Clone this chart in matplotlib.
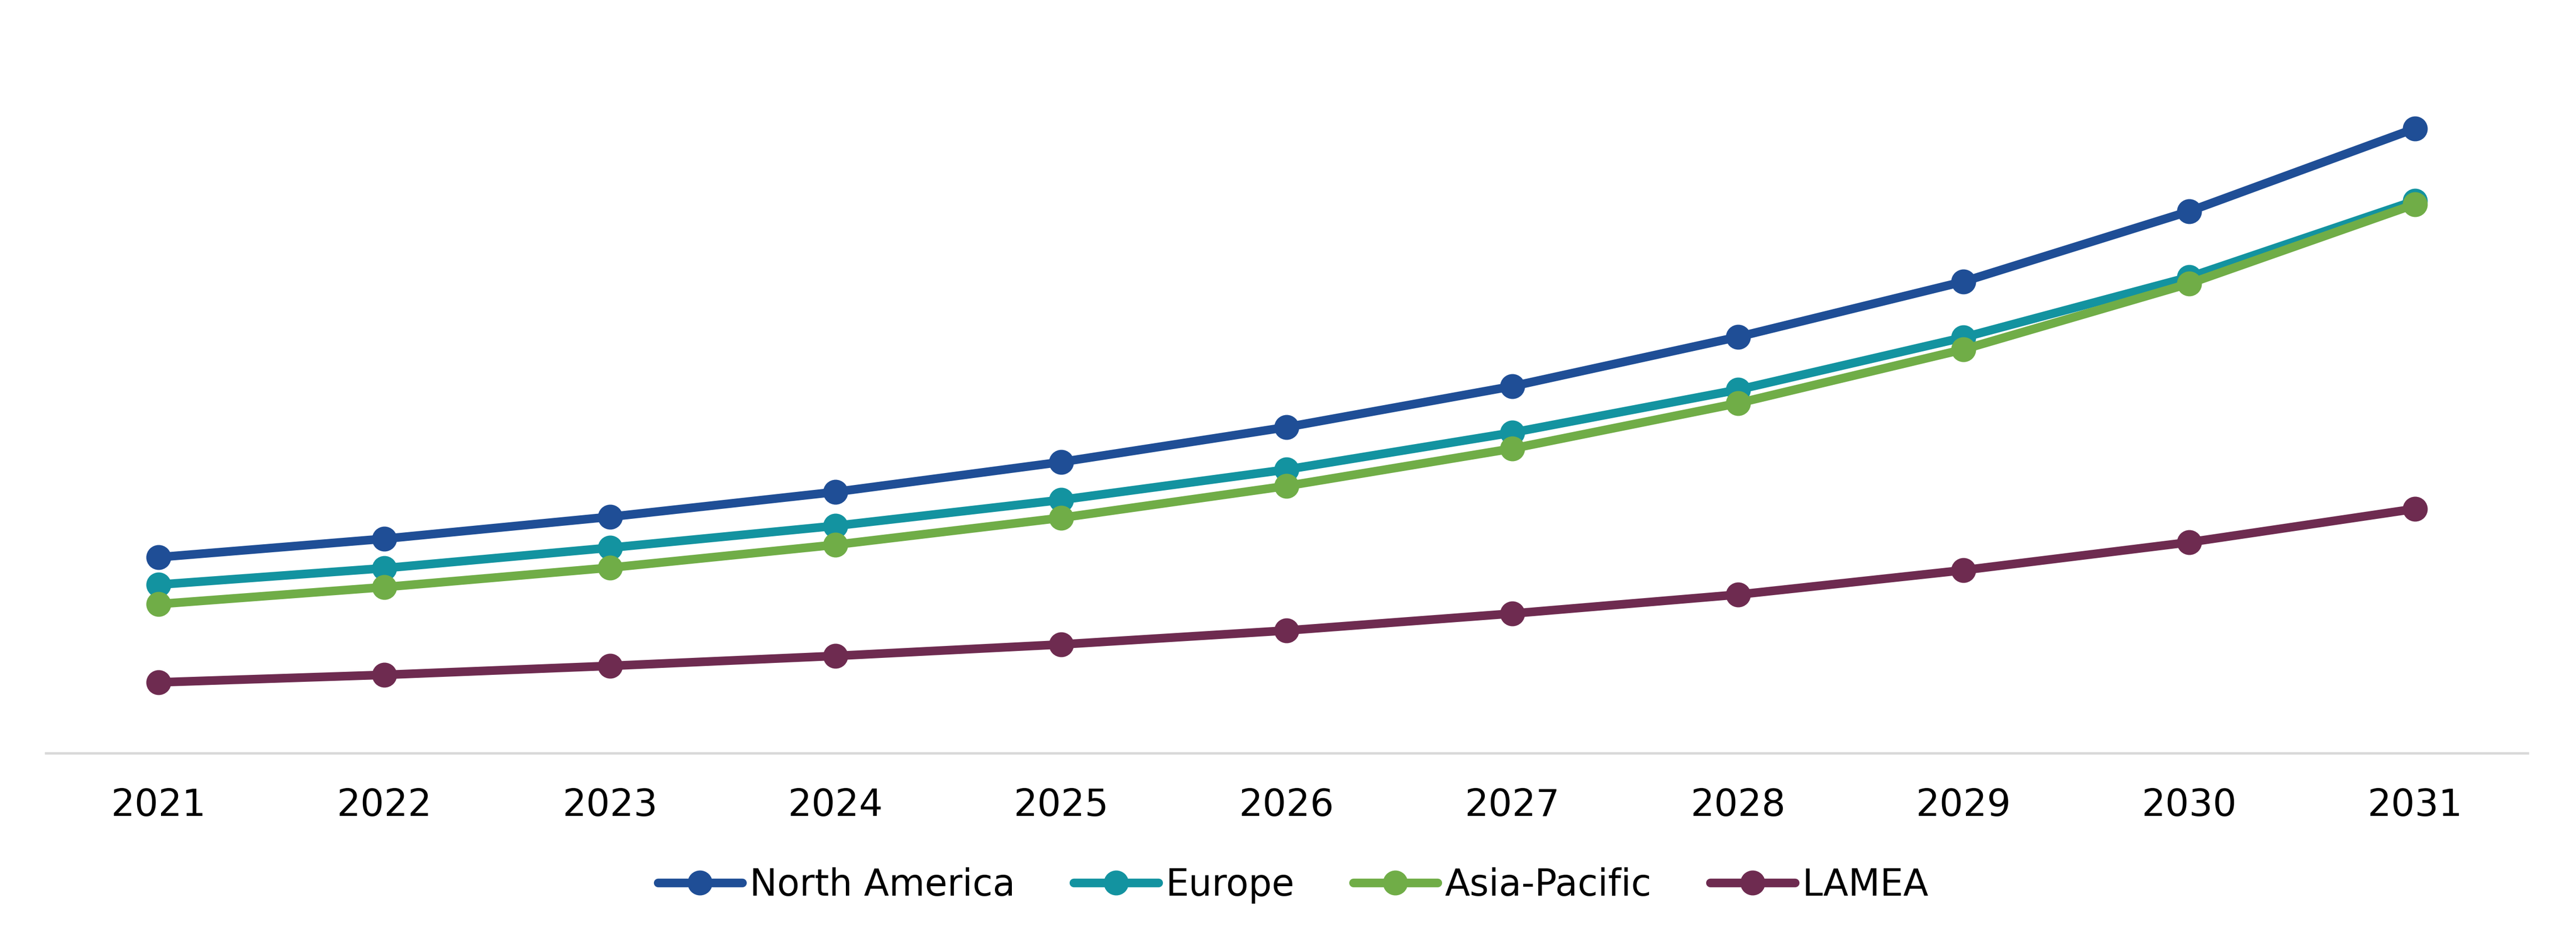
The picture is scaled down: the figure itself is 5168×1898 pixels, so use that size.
import numpy as np
import matplotlib.pyplot as plt

# values (arbitrary units, height above the axis)
years = ['2021', '2022', '2023', '2024', '2025', '2026', '2027', '2028', '2029', '2030', '2031']
north_america = [393, 430, 474, 524, 584, 654, 736, 835, 946, 1087, 1253]
europe = [338, 371, 412, 456, 508, 569, 643, 729, 834, 955, 1108]
asia_pacific = [299, 333, 372, 418, 472, 536, 611, 702, 810, 942, 1101]
lamea = [142, 157, 175, 195, 218, 246, 280, 318, 367, 423, 490]

names = ['North America', 'Europe', 'Asia-Pacific', 'LAMEA']
colors = ['#1F4E96', '#1393A0', '#70AD47', '#6E2B50']

fig = plt.figure(figsize=(51.68, 18.98), dpi=100)
ax = fig.add_axes([0.0178, 0.2039, 0.9634, 0.7961])

x = np.arange(len(years))
for vals, name, col in zip([north_america, europe, asia_pacific, lamea], names, colors):
    ax.plot(x, vals, color=col, lw=12.5, marker='o', markersize=35,
            label=name, solid_capstyle='round')

ax.set_xlim(-0.5, len(years) - 0.5)
ax.set_ylim(0, 1511)
ax.set_xticks(x)
ax.set_xticklabels(years, fontsize=54)
ax.tick_params(axis='x', length=0, pad=50)
ax.set_yticks([])

for s in ['top', 'right', 'left']:
    ax.spines[s].set_visible(False)
ax.spines['bottom'].set_color('#D9D9D9')
ax.spines['bottom'].set_linewidth(3.5)

fig.legend(loc='center', bbox_to_anchor=(0.502, 0.064), ncol=4, frameon=False,
           fontsize=53, handlelength=2.3, handletextpad=0.2, columnspacing=1.6)

fig.savefig('out.png', dpi=100)
